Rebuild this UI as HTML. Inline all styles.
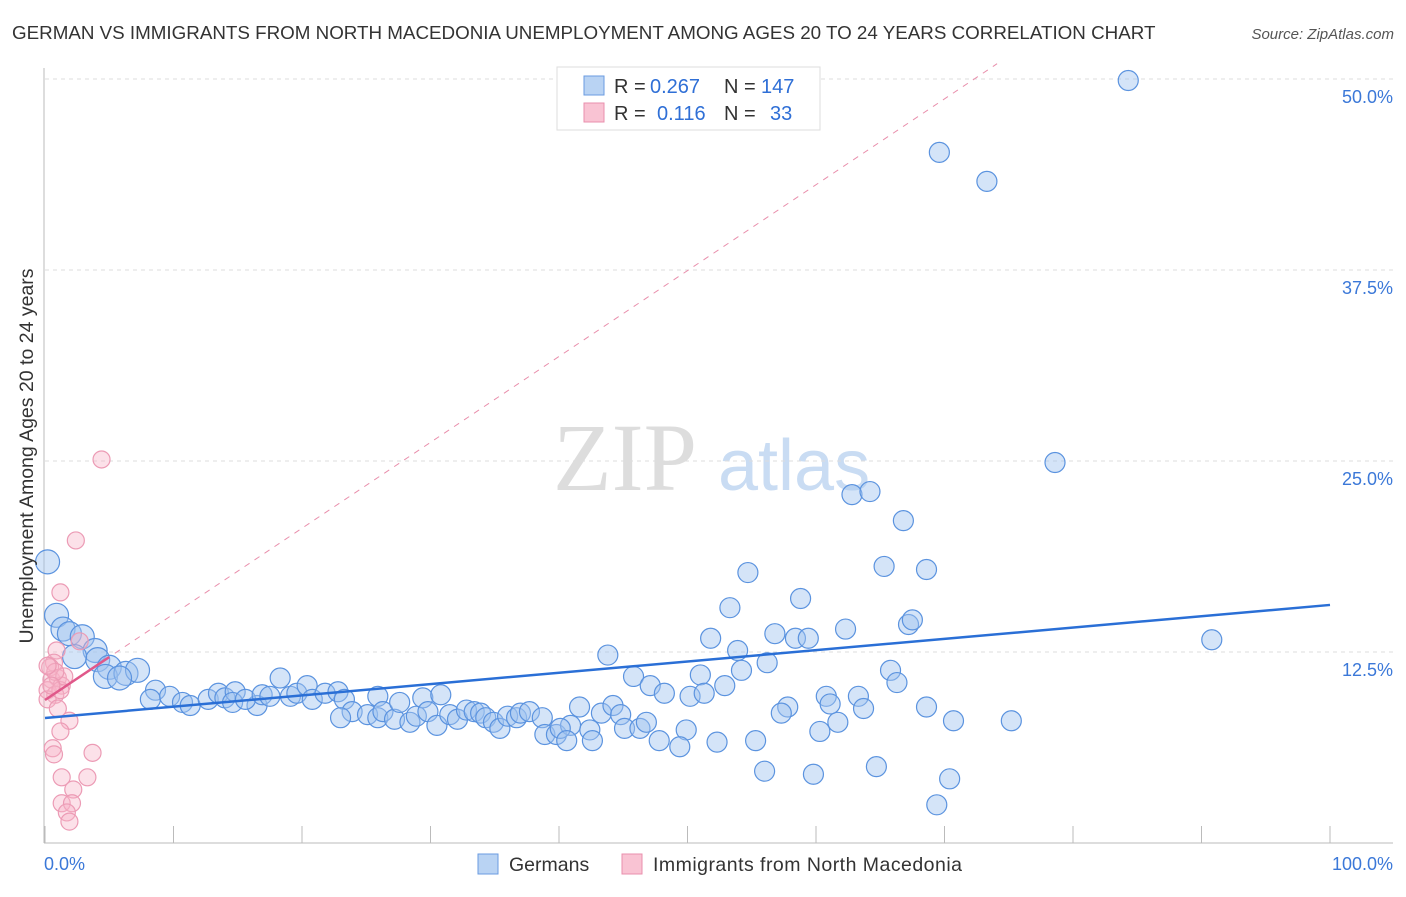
<!DOCTYPE html>
<html><head><meta charset="utf-8"><style>
body{margin:0;background:#fff;font-family:"Liberation Sans",sans-serif}
svg text{font-family:"Liberation Sans",sans-serif}
</style></head><body>
<svg id="c" width="1406" height="892">
<text x="12" y="39" font-size="18.8" fill="#333">GERMAN VS IMMIGRANTS FROM NORTH MACEDONIA UNEMPLOYMENT AMONG AGES 20 TO 24 YEARS CORRELATION CHART</text>
<text x="1394" y="39" font-size="15" fill="#555" font-style="italic" text-anchor="end">Source: ZipAtlas.com</text>
<g><text x="553" y="490" font-size="96" fill="#ddd" font-family="Liberation Serif" style="font-family:'Liberation Serif',serif">ZIP</text><text x="718" y="490" font-size="72" fill="#c9dcf3">atlas</text></g>
<g id="grid"></g><g id="axes"></g><g id="trend"></g><g id="pts"></g>
<text x="33" y="456" font-size="19.5" fill="#333" text-anchor="middle" transform="rotate(-90 33 456)">Unemployment Among Ages 20 to 24 years</text>
<g>
<rect x="557" y="67" width="263" height="63" fill="#fff" stroke="#ddd"/>
<rect x="584" y="76" width="20" height="19" fill="#b9d3f3" stroke="#6a9be0"/>
<rect x="584" y="103" width="20" height="19" fill="#f9c3d3" stroke="#e98fac"/>
<g font-size="20" fill="#333">
<text x="614" y="93">R =</text><text x="650" y="93" fill="#2f6fd6">0.267</text><text x="724" y="93">N =</text><text x="761" y="93" fill="#2f6fd6">147</text>
<text x="614" y="120">R =</text><text x="657" y="120" fill="#2f6fd6">0.116</text><text x="724" y="120">N =</text><text x="770" y="120" fill="#2f6fd6">33</text>
</g>
</g>
<g>
<rect x="478" y="854" width="20" height="20" fill="#b9d3f3" stroke="#6a9be0"/>
<text x="509" y="871" font-size="19.5" fill="#333">Germans</text>
<rect x="622" y="854" width="20" height="20" fill="#f9c3d3" stroke="#e98fac"/>
<text x="653" y="871" font-size="19.5" fill="#333" textLength="309">Immigrants from North Macedonia</text>
</g>
</svg>
<script>
const yTicks=[12.5,25,37.5,50];
const yTickLabels=["12.5%","25.0%","37.5%","50.0%"];
const xLabels=["0.0%","100.0%"];
const blueX=[84.3,69.6,73.3,78.6,62.8,64.2,66.8,65.3,68.6,54.7,58.8,53.3,56.8,58.4,59.4,62.3,67.2,67.5,51.8,53.9,43.8,90.8,56.2,54.2,51.0,45.8,47.1,48.2,50.2,51.3,52.9,65.8,66.3,60.8,61.1,63.3,63.7,57.8,57.3,68.6,70.7,75.2,61.7,60.3,55.3,52.3,49.9,49.4,47.8,56.0,59.8,64.7,70.4,69.4,
0.2,0.9,1.4,1.9,2.9,3.9,4.1,2.3,5.0,4.7,6.3,7.2,5.8,8.6,8.2,9.7,10.7,11.3,12.7,13.5,14.0,14.8,14.6,16.5,15.6,16.9,17.5,18.3,19.1,19.6,20.4,20.8,21.8,22.8,23.3,23.9,23.0,25.9,25.1,25.9,26.3,27.2,27.6,28.4,28.9,29.4,29.8,30.5,30.8,31.5,32.1,32.8,33.4,33.9,34.3,34.9,35.4,36.0,36.7,37.0,37.7,38.7,38.9,39.8,40.9,40.1,40.6,41.6,42.4,42.6,43.3,44.2,44.8,45.1,46.3,46.8];
const blueY=[49.9,45.2,43.3,24.9,22.8,23.0,21.1,18.1,17.9,17.7,16.0,15.4,13.7,13.4,13.4,14.0,14.3,14.6,13.4,12.6,12.3,13.3,11.8,11.3,11.0,10.9,10.3,9.8,9.6,9.8,10.3,11.3,10.5,9.6,9.1,9.6,8.8,8.9,8.5,8.9,8.0,8.0,7.9,7.3,6.7,6.6,7.4,6.3,6.7,4.7,4.5,5.0,4.2,2.5,
18.4,14.9,14.0,13.7,13.5,12.6,12.0,12.2,11.5,10.9,11.1,11.3,10.8,10.0,9.4,9.6,9.2,9.0,9.4,9.8,9.5,9.9,9.2,9.0,9.4,9.7,9.6,10.8,9.6,9.8,10.3,9.4,9.8,9.9,9.4,8.6,8.2,9.6,8.4,8.2,8.6,8.1,9.2,7.9,8.3,9.5,8.6,7.7,9.7,8.4,8.1,8.7,8.6,8.5,8.2,7.9,7.5,8.3,8.2,8.5,8.6,8.2,7.1,7.1,7.7,7.5,6.7,8.9,7.4,6.7,8.5,9.0,8.4,7.5,7.5,7.9];
const pinkX=[4.4,2.4,1.2,0.9,0.7,0.4,0.5,1.0,1.3,0.2,0.8,0.2,1.2,1.5,0.8,1.9,1.2,0.6,0.7,3.7,1.3,3.3,2.2,1.3,2.1,1.7,1.9,0.2,0.5,2.7,1.0];
const pinkY=[25.1,19.8,16.4,12.6,11.8,11.5,10.7,10.8,10.3,10.0,9.7,9.4,10.0,10.9,11.2,8.0,7.3,6.2,5.8,5.9,4.3,4.3,3.5,2.6,2.6,2.0,1.4,11.6,10.3,13.2,8.8];
const blueTrend=[8.18,15.58];
const pinkTrend=[9.36,0.562];
const NS="http://www.w3.org/2000/svg";
const X=v=>45+v*12.85, Y=v=>843-v*15.28;
function mk(t,a,p){const e=document.createElementNS(NS,t);for(const k in a)e.setAttribute(k,a[k]);p.appendChild(e);return e;}
const grid=document.getElementById('grid'),axes=document.getElementById('axes'),trend=document.getElementById('trend'),pts=document.getElementById('pts');
yTicks.forEach((t,i)=>{
 const l=mk('line',{x1:45,x2:1393,y1:Y(t),y2:Y(t),stroke:'#ddd','stroke-dasharray':'4,4'},grid);
 
 
 const tx=mk('text',{x:1393,y:Y(t)+24,'font-size':18,fill:'#3b78d8','text-anchor':'end'},axes);
 tx.textContent=yTickLabels[i];
 
 
});
mk('line',{x1:44,x2:44,y1:68,y2:843,stroke:'#bbb'},axes);
mk('line',{x1:44,x2:1393,y1:843,y2:843,stroke:'#bbb'},axes);
for(let i=0;i<=10;i++){const t=mk('line',{x1:X(i*10),x2:X(i*10),y1:826,y2:843,stroke:'#bbb'},axes);
 
 }
const xl0=mk('text',{x:44,y:870,'font-size':18,fill:'#3b78d8'},axes);xl0.textContent=xLabels[0];


const xl1=mk('text',{x:1393,y:870,'font-size':18,fill:'#3b78d8','text-anchor':'end'},axes);xl1.textContent=xLabels[1];


const xEnd=(51-pinkTrend[0])/pinkTrend[1];
const pd=mk('line',{x1:X(0),y1:Y(pinkTrend[0]),x2:X(xEnd),y2:Y(51),stroke:'#e98fac','stroke-dasharray':'6,6','stroke-width':1},trend);


blueX.forEach((x,i)=>{const c=mk('circle',{cx:X(x),cy:Y(blueY[i]),r:(x<8&&i>53)?12:10,fill:'rgba(160,196,240,0.45)',stroke:'#5b93df','stroke-width':1.2},pts);
 
 });
pinkX.forEach((x,i)=>{const c=mk('circle',{cx:X(x),cy:Y(pinkY[i]),r:8.5,fill:'rgba(248,180,200,0.4)',stroke:'#ec9bb5','stroke-width':1.2},pts);
 
 });
const bl=mk('line',{x1:X(0),y1:Y(blueTrend[0]),x2:X(100),y2:Y(blueTrend[1]),stroke:'#2a6fd6','stroke-width':2.5},pts);


const pl=mk('line',{x1:X(0),y1:Y(pinkTrend[0]),x2:X(5),y2:Y(pinkTrend[0]+5*pinkTrend[1]),stroke:'#e0588a','stroke-width':2.5},pts);


</script>
</body></html>
